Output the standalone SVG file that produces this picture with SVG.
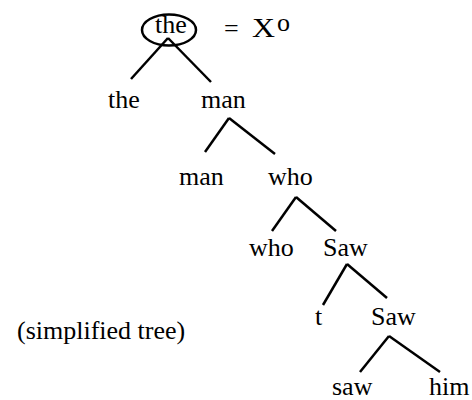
<svg xmlns="http://www.w3.org/2000/svg" width="472" height="400" viewBox="0 0 472 400">
<style>
text{font-family:"Liberation Serif","Times New Roman",serif;font-size:26px;fill:#000}
.e{stroke:#000;stroke-width:2.5;fill:none;stroke-linecap:butt}
</style>
<rect width="472" height="400" fill="#fff"/>
<g id="connectors">
<line class="e" x1="168" y1="38" x2="131" y2="79"/>
<line class="e" x1="168" y1="38" x2="211" y2="82"/>
<line class="e" x1="229" y1="118" x2="205" y2="152"/>
<line class="e" x1="229" y1="118" x2="275" y2="154"/>
<line class="e" x1="296" y1="197" x2="272" y2="231"/>
<line class="e" x1="296" y1="197" x2="336" y2="231"/>
<line class="e" x1="347" y1="264" x2="323" y2="305"/>
<line class="e" x1="347" y1="264" x2="387" y2="298"/>
<line class="e" x1="389" y1="336" x2="360" y2="372"/>
<line class="e" x1="389" y1="336" x2="440" y2="372"/>
</g>
<g id="root">
<ellipse class="e" cx="169" cy="30" rx="27" ry="15.5"/>
<text x="155" y="33">the</text>
</g>
<g id="eq">
<text x="224" y="37">=</text>
<text x="252" y="37" style="font-size:28px" textLength="23" lengthAdjust="spacingAndGlyphs">X</text>
<text x="277" y="31">o</text>
</g>
<g id="n-the"><text x="108" y="108">the</text></g>
<g id="n-man1"><text x="201" y="108">man</text></g>
<g id="n-man2"><text x="179" y="185">man</text></g>
<g id="n-who1"><text x="268" y="185">who</text></g>
<g id="n-who2"><text x="249" y="256">who</text></g>
<g id="n-saw1"><text x="323" y="256">Saw</text></g>
<g id="n-t"><text x="315" y="325">t</text></g>
<g id="n-saw2"><text x="371" y="325">Saw</text></g>
<g id="n-saw3"><text x="332" y="395">saw</text></g>
<g id="n-him"><text x="429" y="395">him</text></g>
<g id="caption"><text x="17" y="339">(simplified tree)</text></g>
</svg>
